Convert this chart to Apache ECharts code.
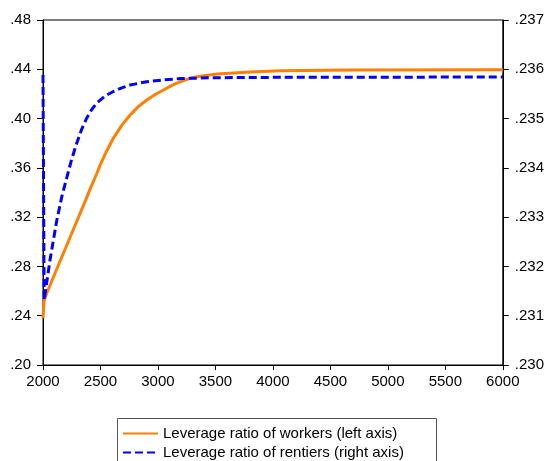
<!DOCTYPE html>
<html>
<head>
<meta charset="utf-8">
<script src="https://cdn.jsdelivr.net/npm/echarts@6/dist/echarts.min.js"></script>
<style>
  html, body { margin: 0; padding: 0; background: #fff; }
  #chart { width: 547px; height: 461px; }
</style>
</head>
<body>
<div id="chart"></div>
<script>
// Simulation periods and the two leverage paths
const workersT = [2000, 2010, 2032, 2119, 2264, 2381, 2409, 2468, 2496, 2555, 2612, 2685, 2758, 2830, 2903, 2976, 3048, 3121, 3193, 3266, 3339, 3513, 3803, 4064, 4674, 6000];
const workersV = [0.2381, 0.2519, 0.2582, 0.2777, 0.3100, 0.3361, 0.3425, 0.3554, 0.3620, 0.3739, 0.3840, 0.3945, 0.4029, 0.4098, 0.4151, 0.4195, 0.4232, 0.4269, 0.4299, 0.4322, 0.4340, 0.4362, 0.4378, 0.4389, 0.4394, 0.4397];

const rentiersT = [2000, 2010, 2061, 2119, 2163, 2206, 2250, 2294, 2337, 2381, 2424, 2468, 2540, 2612, 2685, 2758, 2903, 3048, 3193, 3481, 4064, 6000];
const rentiersV = [0.235884, 0.231319, 0.232130, 0.232922, 0.233409, 0.233794, 0.234180, 0.234504, 0.234788, 0.235012, 0.235184, 0.235316, 0.235458, 0.235549, 0.235624, 0.235681, 0.235748, 0.235783, 0.235811, 0.235829, 0.235837, 0.235843];

// Axis tick values
const xTicks = [2000, 2500, 3000, 3500, 4000, 4500, 5000, 5500, 6000];
const leftTicks = [0.20, 0.24, 0.28, 0.32, 0.36, 0.40, 0.44, 0.48];
const rightTicks = [0.230, 0.231, 0.232, 0.233, 0.234, 0.235, 0.236, 0.237];

const seriesNames = ['Leverage ratio of workers (left axis)', 'Leverage ratio of rentiers (right axis)'];

const zip = (xs, ys) => xs.map((x, i) => [x, ys[i]]);
const noLeadZero = d => v => v.toFixed(d).replace(/^0/, '');

const font = 'Arial, "Liberation Sans", sans-serif';
const axisCommon = {
  axisLine: { show: true, lineStyle: { color: '#000', width: 1 } },
  axisTick: { show: true, inside: false, length: 6, lineStyle: { color: '#000' } },
  splitLine: { show: false },
  axisLabel: { color: '#000', fontSize: 15, fontFamily: font, margin: 12 }
};

const chart = echarts.init(document.getElementById('chart'), null, { renderer: 'canvas' });
chart.setOption({
  animation: false,
  backgroundColor: '#fff',
  grid: { left: 43, right: 44, top: 20, bottom: 96, show: true, borderColor: '#000', borderWidth: 1, backgroundColor: 'transparent' },
  xAxis: Object.assign({}, axisCommon, {
    type: 'value',
    min: xTicks[0], max: xTicks[xTicks.length - 1], interval: xTicks[1] - xTicks[0],
    axisTick: { show: true, length: 5, lineStyle: { color: '#000' } },
    axisLabel: Object.assign({}, axisCommon.axisLabel, { margin: 9, formatter: v => String(v) })
  }),
  yAxis: [
    Object.assign({}, axisCommon, {
      type: 'value', position: 'left',
      min: leftTicks[0], max: leftTicks[leftTicks.length - 1], interval: 0.04,
      axisLabel: Object.assign({}, axisCommon.axisLabel, { formatter: noLeadZero(2) })
    }),
    Object.assign({}, axisCommon, {
      type: 'value', position: 'right',
      min: rightTicks[0], max: rightTicks[rightTicks.length - 1], interval: 0.001,
      axisLabel: Object.assign({}, axisCommon.axisLabel, { formatter: noLeadZero(3) })
    })
  ],
  legend: {
    orient: 'vertical',
    left: 122, top: 426,
    padding: 0,
    itemGap: 4,
    itemWidth: 35, itemHeight: 14,
    itemStyle: { opacity: 0 },
    textStyle: { color: '#000', fontSize: 15, fontFamily: font },
    data: seriesNames
  },
  graphic: [{
    type: 'rect',
    shape: { x: 117.5, y: 418.5, width: 319, height: 60 },
    style: { fill: 'none', stroke: '#555', lineWidth: 1 },
    z: 0
  }],
  series: [
    {
      name: seriesNames[0], type: 'line', yAxisIndex: 0,
      data: zip(workersT, workersV),
      showSymbol: false, symbol: 'none', smooth: false,
      lineStyle: { color: '#ff8000', width: 3, join: 'round' },
      itemStyle: { color: '#ff8000' },
      z: 2
    },
    {
      name: seriesNames[1], type: 'line', yAxisIndex: 1,
      data: zip(rentiersT, rentiersV),
      showSymbol: false, symbol: 'none', smooth: false,
      lineStyle: { color: '#0000ff', width: 3, type: [8, 4], join: 'round' },
      itemStyle: { color: '#0000ff' },
      z: 3
    }
  ]
});
</script>
</body>
</html>
